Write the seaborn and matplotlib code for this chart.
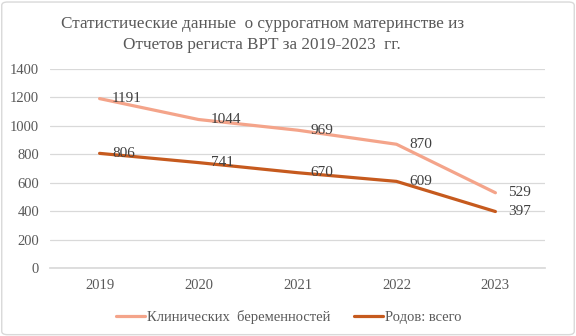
import matplotlib
matplotlib.use("Agg")
import matplotlib.pyplot as plt
import seaborn as sns
import pandas as pd
from matplotlib.patches import FancyBboxPatch

years = ["2019", "2020", "2021", "2022", "2023"]
clinical = [1191, 1044, 969, 870, 529]
births = [806, 741, 670, 609, 397]
series_names = ["Клинических  беременностей", "Родов: всего"]
title = "Статистические данные  о суррогатном материнстве из\nОтчетов региста ВРТ за 2019-2023  гг."

df = pd.DataFrame({
    "year": years * 2,
    "value": clinical + births,
    "series": [series_names[0]] * 5 + [series_names[1]] * 5,
})
df["x"] = list(range(5)) * 2

sns.set_theme(style="white")
plt.rcParams['font.family'] = ['Liberation Serif', 'DejaVu Serif']
txt = "#595959"

fig = plt.figure(figsize=(5.76, 3.36), dpi=100)
ax = fig.add_axes([0.087, 0.2024, 0.859, 0.5926])

palette = {series_names[0]: "#F4A48A", series_names[1]: "#C65A1E"}
sns.lineplot(data=df, x="x", y="value", hue="series", palette=palette,
             linewidth=2.3, ax=ax, legend=True)

for vals in (clinical, births):
    for i, v in enumerate(vals):
        ax.annotate(str(v), (i, v), xytext=(9, 0), textcoords="offset points",
                    ha="left", va="center", fontsize=11, color="#404040")

ax.set_xlim(-0.5, 4.5)
ax.set_ylim(0, 1400)
ax.set_yticks(range(0, 1401, 200))
ax.set_xticks(range(5))
ax.set_xticklabels(years)
ax.grid(axis="y", color="#D9D9D9", linewidth=0.9)
ax.set_axisbelow(True)
for s in ax.spines.values():
    s.set_visible(False)
ax.spines["bottom"].set_visible(True)
ax.spines["bottom"].set_color("#D9D9D9")
ax.tick_params(axis="both", length=0, labelsize=10.5, labelcolor=txt, pad=8)
ax.set_xlabel("")
ax.set_ylabel("")

leg = ax.legend(loc="upper center", bbox_to_anchor=(0.482, -0.145), ncol=2,
                frameon=False, fontsize=10.5, handlelength=2.0, columnspacing=1.6,
                handletextpad=0.15)
for t in leg.get_texts():
    t.set_color(txt)

fig.text(0.455, 0.953, title, ha="center", va="top", fontsize=12.3, color=txt,
         linespacing=1.45)

border = FancyBboxPatch((0.003, 0.004), 0.994, 0.99, boxstyle="round,pad=0,rounding_size=0.01",
                        transform=fig.transFigure, fill=False, edgecolor="#D9D9D9", linewidth=1)
fig.patches.append(border)

fig.savefig("out.png", dpi=100)
